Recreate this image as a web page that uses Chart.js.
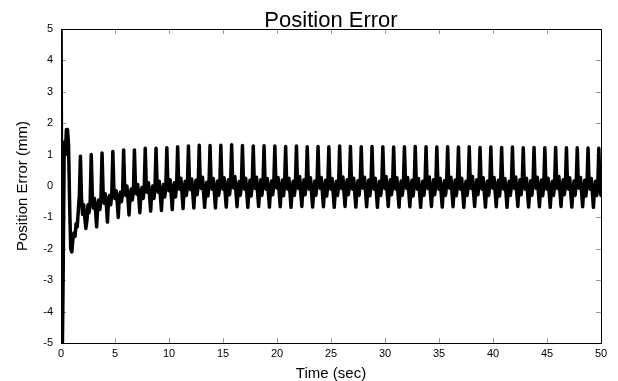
<!DOCTYPE html>
<html>
<head>
<meta charset="utf-8">
<title>Position Error</title>
<script src="https://cdn.jsdelivr.net/npm/chart.js@4/dist/chart.umd.min.js"></script>
<style>
  html, body { margin: 0; padding: 0; background: #fff; }
  #wrap { width: 618px; height: 381px; position: relative; }
</style>
</head>
<body>
<div id="wrap"><canvas id="chart"></canvas></div>
<script>
// position error trace, sampled every 0.1 s (one row = one second)
const chartTitle = 'Position Error';
const xAxisTitle = 'Time (sec)';
const yAxisTitle = 'Position Error (mm)';
const sampleStepSec = 0.1;
const xTicks = [0, 5, 10, 15, 20, 25, 30, 35, 40, 45, 50];
const yTicks = [-5, -4, -3, -2, -1, 0, 1, 2, 3, 4, 5];

const errorMm = [
  6.0, -6.0, -2.8, 1.4, 1.0, 1.8, 1.8, 1.3, -0.6, -2.0,
  -2.1, -1.7, -1.5, -1.6, -1.2, -1.3, -0.8, -0.3, 0.95, -0.4,
  -0.9, -0.6, -1.0, -1.35, -1.1, -0.6, -0.85, -0.5, 1.0, -0.3,
  -0.7, -0.4, -0.8, -1.3, -0.6, -0.45, -0.75, -0.4, 1.05, -0.2,
  -0.55, -0.25, -0.6, -1.15, -0.45, -0.3, -0.6, -0.3, 1.1, -0.15,
  -0.4, -0.15, -0.5, -1.0, -0.35, -0.2, -0.5, -0.25, 1.15, -0.1,
  -0.3, 0.0, -0.4, -0.92, -0.3, -0.1, -0.45, -0.2, 1.15, -0.1,
  -0.25, 0.05, -0.35, -0.85, -0.25, -0.05, -0.4, -0.15, 1.2, -0.05,
  -0.2, 0.1, -0.3, -0.8, -0.2, 0.0, -0.4, -0.1, 1.2, 0.0,
  -0.2, 0.15, -0.3, -0.78, -0.15, 0.05, -0.35, -0.1, 1.22, 0.0,
  -0.15, 0.2, -0.25, -0.75, -0.1, 0.1, -0.35, -0.05, 1.25, 0.0,
  -0.1, 0.25, -0.2, -0.72, -0.1, 0.15, -0.3, -0.05, 1.27, 0.05,
  -0.12, 0.22, -0.22, -0.7, -0.08, 0.18, -0.28, 0.0, 1.3, 0.02,
  -0.08, 0.28, -0.18, -0.68, -0.12, 0.12, -0.32, -0.02, 1.29, 0.06,
  -0.1, 0.24, -0.2, -0.7, -0.1, 0.16, -0.3, 0.0, 1.3, 0.04,
  -0.1, 0.26, -0.22, -0.67, -0.06, 0.2, -0.28, 0.02, 1.31, 0.05,
  -0.06, 0.3, -0.18, -0.66, -0.1, 0.14, -0.3, 0.0, 1.29, 0.03,
  -0.1, 0.25, -0.2, -0.68, -0.08, 0.18, -0.32, -0.02, 1.27, 0.05,
  -0.08, 0.28, -0.2, -0.65, -0.06, 0.2, -0.3, 0.0, 1.28, 0.04,
  -0.1, 0.24, -0.22, -0.67, -0.1, 0.16, -0.28, 0.02, 1.27, 0.05,
  -0.06, 0.27, -0.18, -0.66, -0.08, 0.19, -0.31, 0.0, 1.26, 0.03,
  -0.1, 0.25, -0.2, -0.68, -0.1, 0.15, -0.3, -0.02, 1.27, 0.05,
  -0.08, 0.3, -0.2, -0.65, -0.06, 0.2, -0.28, 0.0, 1.25, 0.04,
  -0.1, 0.26, -0.22, -0.67, -0.1, 0.16, -0.3, 0.02, 1.26, 0.05,
  -0.07, 0.27, -0.18, -0.66, -0.08, 0.18, -0.32, 0.0, 1.25, 0.03,
  -0.1, 0.24, -0.2, -0.68, -0.1, 0.15, -0.3, -0.02, 1.27, 0.05,
  -0.08, 0.29, -0.2, -0.65, -0.06, 0.2, -0.28, 0.0, 1.26, 0.04,
  -0.1, 0.25, -0.22, -0.67, -0.1, 0.17, -0.3, 0.02, 1.25, 0.05,
  -0.07, 0.28, -0.18, -0.66, -0.08, 0.19, -0.31, 0.0, 1.26, 0.03,
  -0.1, 0.25, -0.2, -0.68, -0.1, 0.15, -0.3, -0.02, 1.25, 0.05,
  -0.08, 0.3, -0.2, -0.65, -0.06, 0.2, -0.28, 0.0, 1.24, 0.04,
  -0.1, 0.26, -0.22, -0.67, -0.1, 0.16, -0.3, 0.02, 1.25, 0.05,
  -0.07, 0.27, -0.18, -0.66, -0.08, 0.18, -0.32, 0.0, 1.26, 0.03,
  -0.1, 0.24, -0.2, -0.68, -0.1, 0.15, -0.3, -0.02, 1.25, 0.05,
  -0.08, 0.29, -0.2, -0.65, -0.06, 0.2, -0.28, 0.0, 1.24, 0.04,
  -0.1, 0.25, -0.22, -0.67, -0.1, 0.17, -0.3, 0.02, 1.25, 0.05,
  -0.07, 0.28, -0.18, -0.66, -0.08, 0.19, -0.31, 0.0, 1.24, 0.03,
  -0.1, 0.25, -0.2, -0.68, -0.1, 0.15, -0.3, -0.02, 1.25, 0.05,
  -0.08, 0.3, -0.2, -0.65, -0.06, 0.2, -0.28, 0.0, 1.23, 0.04,
  -0.1, 0.26, -0.22, -0.67, -0.1, 0.16, -0.3, 0.02, 1.24, 0.05,
  -0.07, 0.27, -0.18, -0.66, -0.08, 0.18, -0.32, 0.0, 1.23, 0.03,
  -0.1, 0.24, -0.2, -0.68, -0.1, 0.15, -0.3, -0.02, 1.24, 0.05,
  -0.08, 0.29, -0.2, -0.65, -0.06, 0.2, -0.28, 0.0, 1.22, 0.04,
  -0.1, 0.25, -0.22, -0.67, -0.1, 0.17, -0.3, 0.02, 1.23, 0.05,
  -0.07, 0.28, -0.18, -0.66, -0.08, 0.19, -0.31, 0.0, 1.22, 0.03,
  -0.1, 0.25, -0.2, -0.68, -0.1, 0.15, -0.3, -0.02, 1.23, 0.05,
  -0.08, 0.3, -0.2, -0.65, -0.06, 0.2, -0.28, 0.0, 1.22, 0.04,
  -0.1, 0.26, -0.22, -0.67, -0.1, 0.16, -0.3, 0.02, 1.22, 0.05,
  -0.07, 0.27, -0.18, -0.66, -0.08, 0.18, -0.32, 0.0, 1.21, 0.03,
  -0.1, 0.24, -0.2, -0.68, -0.1, 0.15, -0.3, -0.02, 1.2, -0.1,
  -0.3
];

const FONT = '"Liberation Sans", Arial, sans-serif';

const points = errorMm.map((v, i) => ({ x: Math.round(i * sampleStepSec * 10) / 10, y: v }));

// inward ticks on all four sides + box, like the old matlab plot
const framePlugin = {
  id: 'frame',
  beforeDatasetsDraw(chart) {
    const { ctx, chartArea: a, scales: { x, y } } = chart;
    ctx.save();
    ctx.lineWidth = 1;
    ctx.strokeStyle = '#999';
    ctx.beginPath();
    xTicks.forEach(v => {
      const px = Math.round(x.getPixelForValue(v)) + 0.5;
      ctx.moveTo(px, a.bottom); ctx.lineTo(px, a.bottom - 5);
      ctx.moveTo(px, a.top); ctx.lineTo(px, a.top + 5);
    });
    yTicks.forEach(v => {
      const py = Math.round(y.getPixelForValue(v)) + 0.5;
      ctx.moveTo(a.left, py); ctx.lineTo(a.left + 5, py);
      ctx.moveTo(a.right, py); ctx.lineTo(a.right - 5, py);
    });
    ctx.stroke();
    ctx.strokeStyle = '#000';
    ctx.strokeRect(Math.round(a.left) + 0.5, Math.round(a.top) + 0.5,
      Math.round(a.right - a.left), Math.round(a.bottom - a.top));
    ctx.restore();
  },
  afterDraw(chart) {
    const { ctx, chartArea: a } = chart;
    const cx = (a.left + a.right) / 2;
    ctx.save();
    ctx.fillStyle = '#000';
    ctx.textAlign = 'center';
    ctx.textBaseline = 'alphabetic';
    ctx.font = '22px ' + FONT;
    ctx.fillText(chartTitle, cx, 27);
    ctx.font = '15px ' + FONT;
    ctx.fillText(xAxisTitle, cx, 378);
    ctx.translate(27, (a.top + a.bottom) / 2);
    ctx.rotate(-Math.PI / 2);
    ctx.fillText(yAxisTitle, 0, 0);
    ctx.restore();
  }
};

new Chart(document.getElementById('chart'), {
  type: 'line',
  data: {
    datasets: [{
      label: 'Position Error',
      data: points,
      borderColor: '#000',
      borderWidth: 3.5,
      borderJoinStyle: 'round',
      borderCapStyle: 'round',
      pointRadius: 0,
      tension: 0,
      fill: false,
    }]
  },
  options: {
    responsive: true,
    maintainAspectRatio: false,
    animation: false,
    layout: { padding: { top: 29, right: 17, left: 0, bottom: 0 } },
    plugins: { legend: { display: false }, tooltip: { enabled: false }, title: { display: false } },
    scales: {
      x: {
        type: 'linear', min: 0, max: 50,
        afterFit: s => { s.height = 38; },
        afterBuildTicks: s => { s.ticks = xTicks.map(v => ({ value: v })); },
        grid: { display: false },
        border: { display: false },
        ticks: { color: '#000', font: { family: FONT, size: 11 }, padding: -4, maxRotation: 0, autoSkip: false },
      },
      y: {
        type: 'linear', min: -5, max: 5,
        afterFit: s => { s.width = 61; },
        afterBuildTicks: s => { s.ticks = yTicks.map(v => ({ value: v })); },
        grid: { display: false },
        border: { display: false },
        ticks: { color: '#000', font: { family: FONT, size: 11 }, padding: 0 },
      }
    }
  },
  plugins: [framePlugin]
});
</script>
</body>
</html>
